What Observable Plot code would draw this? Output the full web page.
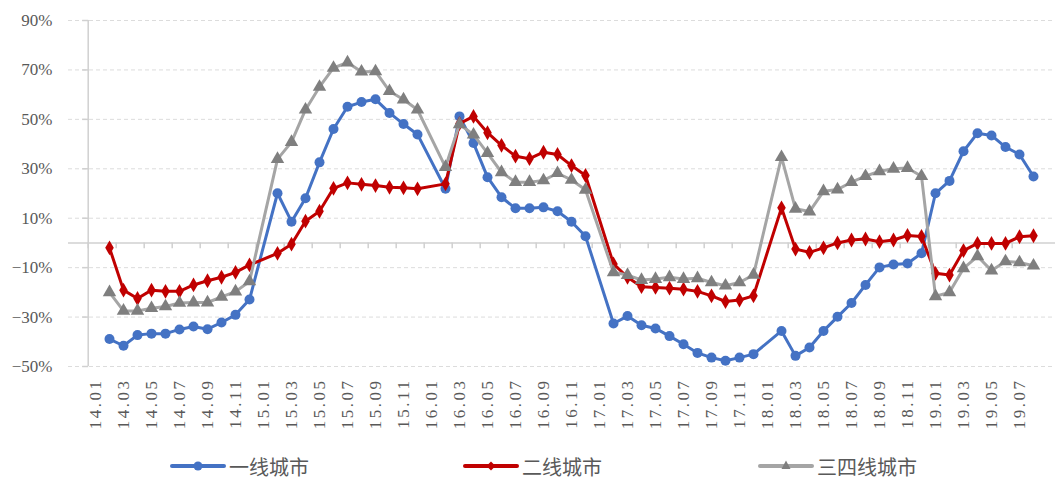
<!DOCTYPE html>
<html><head><meta charset="utf-8">
<script src="https://cdn.jsdelivr.net/npm/d3@7"></script>
<script src="https://cdn.jsdelivr.net/npm/@observablehq/plot@0.6"></script>
<style>
html,body{margin:0;padding:0;background:#fff;overflow:hidden;}
#wrap{position:relative;width:1055px;height:481px;}
#chart svg{display:block;}
.item{position:absolute;top:455px;height:22px;display:flex;align-items:center;font-family:"Noto Sans CJK SC";font-size:20px;line-height:21px;color:#595959;}
.item svg{display:block;margin-right:3px;}
</style></head>
<body><div id="wrap"><div id="chart"></div></div>
<script>
const months = ["14.01","14.02","14.03","14.04","14.05","14.06","14.07","14.08","14.09","14.10","14.11","14.12",
"15.01","15.02","15.03","15.04","15.05","15.06","15.07","15.08","15.09","15.10","15.11","15.12",
"16.01","16.02","16.03","16.04","16.05","16.06","16.07","16.08","16.09","16.10","16.11","16.12",
"17.01","17.02","17.03","17.04","17.05","17.06","17.07","17.08","17.09","17.10","17.11","17.12",
"18.01","18.02","18.03","18.04","18.05","18.06","18.07","18.08","18.09","18.10","18.11","18.12",
"19.01","19.02","19.03","19.04","19.05","19.06","19.07","19.08"];
const tickLabels = ["14.01","14.03","14.05","14.07","14.09","14.11","15.01","15.03","15.05","15.07","15.09","15.11",
"16.01","16.03","16.05","16.07","16.09","16.11","17.01","17.03","17.05","17.07","17.09","17.11",
"18.01","18.03","18.05","18.07","18.09","18.11","19.01","19.03","19.05","19.07"];
const yTicks = [90,70,50,30,10,-10,-30,-50];
const seriesNames = ["一线城市","二线城市","三四线城市"];

const tier1 = [null,-38.9,-41.6,-37.3,-36.7,-36.7,-35.0,-33.8,-34.9,-32.2,-29.1,-22.9,
null,20.1,8.6,18.1,32.6,46.1,55.1,57.0,58.1,52.6,48.1,43.9,
null,21.9,51.2,40.4,26.6,18.5,14.0,14.0,14.4,12.8,8.6,2.7,
null,-32.6,-29.6,-33.3,-34.6,-37.7,-41.0,-44.5,-46.4,-47.7,-46.4,-45.0,
null,-35.6,-45.7,-42.3,-35.6,-29.9,-24.3,-17.0,-9.9,-8.7,-8.3,-4.2,
20.1,25.1,37.1,44.4,43.5,38.8,35.8,26.9];
const tier2 = [null,-2.0,-19.1,-22.5,-19.1,-19.6,-19.6,-17.0,-15.3,-13.9,-11.9,-8.9,
null,-4.2,-0.5,8.8,12.8,22.1,24.3,23.7,23.2,22.5,22.3,21.9,
null,23.9,48.3,51.2,44.6,39.5,35.1,34.1,36.7,35.8,31.3,27.3,
null,-8.5,-13.9,-17.7,-18.0,-18.3,-18.7,-19.6,-21.4,-23.7,-23.1,-21.4,
null,14.2,-2.5,-3.8,-2.0,0.0,1.2,1.6,0.5,1.2,3.0,2.6,
-12.3,-13.0,-3.1,-0.2,-0.2,-0.2,2.5,2.9];
const tier34 = [null,-20.0,-27.5,-27.5,-26.4,-25.7,-24.3,-24.1,-24.1,-21.8,-19.7,-15.6,
null,33.9,40.8,53.9,63.1,70.8,73.0,69.3,69.4,61.4,58.0,53.9,
null,30.7,48.0,43.8,36.3,28.6,24.6,24.6,25.3,28.2,25.5,21.5,
null,-11.9,-13.0,-15.0,-14.6,-13.9,-14.6,-14.3,-16.0,-17.3,-16.0,-12.9,
null,34.7,13.8,12.7,20.9,21.6,24.6,27.0,29.0,30.0,30.3,27.0,
-21.6,-20.0,-10.3,-5.4,-11.2,-7.5,-7.9,-9.2];

const toRows = arr => months.map((c,i)=>({c, v: arr[i]})).filter(d => d.v != null);
const d1 = toRows(tier1), d2 = toRows(tier2), d3r = toRows(tier34);

const C1 = "#4472C4", C2 = "#C00000", C3 = "#A5A5A5", C3m = "#7F7F7F";
const axisCol = "#d0d0d0", textCol = "#595959";
const serif = "Liberation Serif";
const fmt = d => (d < 0 ? "\u2212" + Math.abs(d) : d) + "%";
const half = 7.3;
const hTick = {draw(ctx) { ctx.moveTo(-6, 0); ctx.lineTo(0, 0); }};

const plot = Plot.plot({
  width: 1055, height: 450,
  marginTop: 20, marginBottom: 84, marginLeft: 68, marginRight: 0,
  x: {type: "point", domain: months, range: [75.4, 1053.6], axis: null},
  y: {domain: [-50, 90], axis: null},
  style: {background: "white", overflow: "hidden", fontFamily: serif},
  marks: [
    Plot.ruleY(yTicks, {stroke: "#dcdcdc", strokeWidth: 1, strokeDasharray: "4,3"}),
    Plot.ruleY([0], {stroke: axisCol, strokeWidth: 1.5}),
    Plot.ruleX([months[0]], {dx: -half, y1: -50, y2: 90, stroke: axisCol, strokeWidth: 1.5}),
    Plot.dot(yTicks, {x: () => months[0], y: d => d, dx: -half, symbol: hTick, stroke: axisCol, strokeWidth: 1.5, fill: "none"}),
    Plot.ruleX(tickLabels, {x: d => d, dx: -half, y1: 0, y2: -2.4, stroke: axisCol, strokeWidth: 1.5}),
    Plot.text(yTicks, {y: d => d, frameAnchor: "left", dx: -16, textAnchor: "end", text: fmt,
      fontSize: 17, fontFamily: serif, fontWeight: "normal", fill: textCol}),
    Plot.text(tickLabels, {x: d => d, y: -50, dy: 12, rotate: -90, textAnchor: "end", lineAnchor: "middle",
      text: d => d, fontSize: 17, fontFamily: serif, fontWeight: "normal", fill: textCol}),
    Plot.line(d1, {x: "c", y: "v", stroke: C1, strokeWidth: 3, strokeLinejoin: "round"}),
    Plot.dot(d1, {x: "c", y: "v", r: 5, fill: C1}),
    Plot.line(d2, {x: "c", y: "v", stroke: C2, strokeWidth: 3, strokeLinejoin: "round"}),
    Plot.dot(d2, {x: "c", y: "v", r: 4.5, symbol: "diamond", fill: C2}),
    Plot.line(d3r, {x: "c", y: "v", stroke: C3, strokeWidth: 3, strokeLinejoin: "round"}),
    Plot.dot(d3r, {x: "c", y: "v", r: 5, symbol: "triangle", fill: C3m})
  ]
});
d3.select(plot).selectAll("text")
  .style("font-family", "'Liberation Serif', serif")
  .style("font-weight", "normal")
  .filter(function() { return (this.getAttribute("transform") || "").includes("rotate"); })
  .style("letter-spacing", "2.5px");
document.getElementById("chart").appendChild(plot);

// legend
const legendItems = [
  {name: seriesNames[0], color: C1, mcolor: C1, sym: "circle", left: 170},
  {name: seriesNames[1], color: C2, mcolor: C2, sym: "diamond", left: 463},
  {name: seriesNames[2], color: C3, mcolor: C3m, sym: "triangle", left: 758}
];
const wrap = document.getElementById("wrap");
legendItems.forEach(it => {
  const div = document.createElement("div");
  div.className = "item";
  div.style.left = it.left + "px";
  let marker;
  if (it.sym === "circle") marker = `<circle cx="28" cy="11" r="4.5" fill="${it.mcolor}"/>`;
  else if (it.sym === "diamond") marker = `<path d="M28,6.5L32.5,11L28,15.5L23.5,11Z" fill="${it.mcolor}"/>`;
  else marker = `<path d="M28,5.5L32.5,14L23.5,14Z" fill="${it.mcolor}"/>`;
  div.innerHTML = `<svg width="56" height="22"><line x1="2" y1="11" x2="54" y2="11" stroke="${it.color}" stroke-width="4" stroke-linecap="round"/>${marker}</svg><span>${it.name}</span>`;
  wrap.appendChild(div);
});
</script>
</body></html>
